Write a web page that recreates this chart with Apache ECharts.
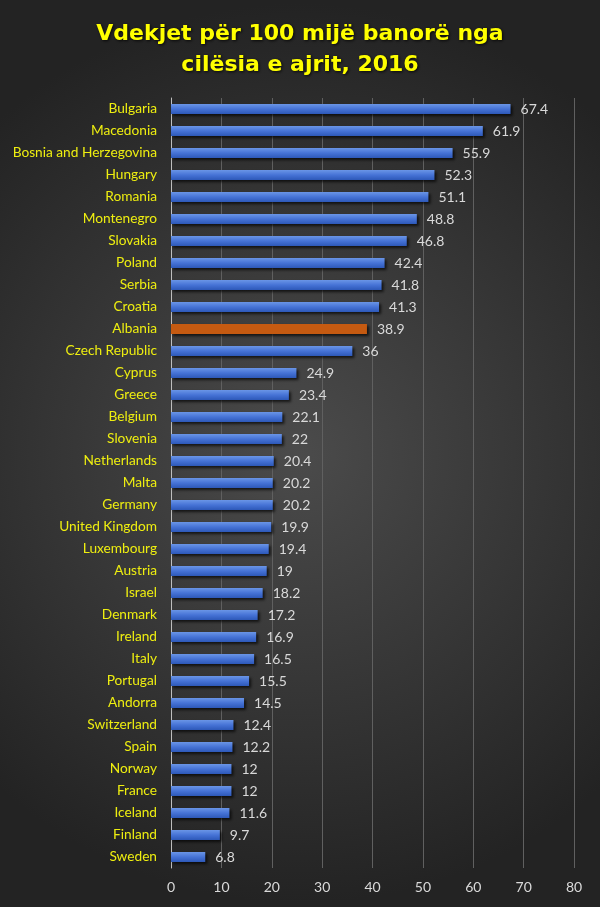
<!DOCTYPE html>
<html>
<head>
<meta charset="utf-8">
<script src="https://cdn.jsdelivr.net/npm/echarts@6/dist/echarts.min.js"></script>
<style>
  html, body { margin: 0; padding: 0; }
  #chart { width: 600px; height: 907px; }
</style>
</head>
<body>
<div id="chart"></div>
<script>
// te dhenat
var countries = ["Bulgaria", "Macedonia", "Bosnia and Herzegovina", "Hungary", "Romania",
  "Montenegro", "Slovakia", "Poland", "Serbia", "Croatia", "Albania", "Czech Republic",
  "Cyprus", "Greece", "Belgium", "Slovenia", "Netherlands", "Malta", "Germany",
  "United Kingdom", "Luxembourg", "Austria", "Israel", "Denmark", "Ireland", "Italy",
  "Portugal", "Andorra", "Switzerland", "Spain", "Norway", "France", "Iceland",
  "Finland", "Sweden"];
var deaths = [67.4, 61.9, 55.9, 52.3, 51.1, 48.8, 46.8, 42.4, 41.8, 41.3, 38.9, 36,
  24.9, 23.4, 22.1, 22, 20.4, 20.2, 20.2, 19.9, 19.4, 19, 18.2, 17.2, 16.9, 16.5,
  15.5, 14.5, 12.4, 12.2, 12, 12, 11.6, 9.7, 6.8];
var highlight = "Albania";

var chart = echarts.init(document.getElementById("chart"));

var blue = new echarts.graphic.LinearGradient(0, 0, 0, 1, [
  { offset: 0, color: "#6a95e6" },
  { offset: 0.5, color: "#4673d6" },
  { offset: 1, color: "#2d58b8" }
]);
var orange = "#c55a11";

var option = {
  backgroundColor: new echarts.graphic.RadialGradient(0.5, 0.5, 0.75, [
    { offset: 0, color: "#4b4b4b" },
    { offset: 1, color: "#232323" }
  ]),
  title: {
    text: "Vdekjet për 100 mijë banorë nga\ncilësia e ajrit, 2016",
    left: "center",
    top: 14,
    textStyle: {
      color: "#ffff00",
      fontFamily: "DejaVu Sans",
      fontWeight: "bold",
      fontSize: 22,
      lineHeight: 31,
      textShadowColor: "rgba(0,0,0,0.8)",
      textShadowBlur: 3,
      textShadowOffsetX: 1,
      textShadowOffsetY: 1
    }
  },
  grid: { left: 171, right: 26, top: 98, bottom: 39, containLabel: false },
  xAxis: {
    type: "value",
    min: 0,
    max: 80,
    interval: 10,
    axisLine: { show: false },
    axisTick: { show: false },
    splitLine: { lineStyle: { color: "#606060", width: 1 } },
    axisLabel: { color: "#d9d9d9", fontFamily: "Lato", fontSize: 14, margin: 12 }
  },
  yAxis: {
    type: "category",
    inverse: true,
    data: countries,
    axisLine: { show: true, lineStyle: { color: "#bfbfbf", width: 1 } },
    axisTick: { show: false },
    axisLabel: { color: "#eeee10", fontFamily: "Lato", fontSize: 13.7, margin: 14 }
  },
  series: [{
    type: "bar",
    data: deaths.map(function (v, i) {
      return {
        value: v,
        itemStyle: { color: countries[i] === highlight ? orange : blue }
      };
    }),
    barWidth: 10,
    itemStyle: {
      shadowColor: "rgba(0,0,0,0.7)",
      shadowBlur: 3,
      shadowOffsetX: 2,
      shadowOffsetY: 2
    },
    label: {
      show: true,
      position: "right",
      distance: 10,
      color: "#d9d9d9",
      fontFamily: "Lato",
      fontSize: 14
    }
  }]
};
chart.setOption(option);
</script>
</body>
</html>
